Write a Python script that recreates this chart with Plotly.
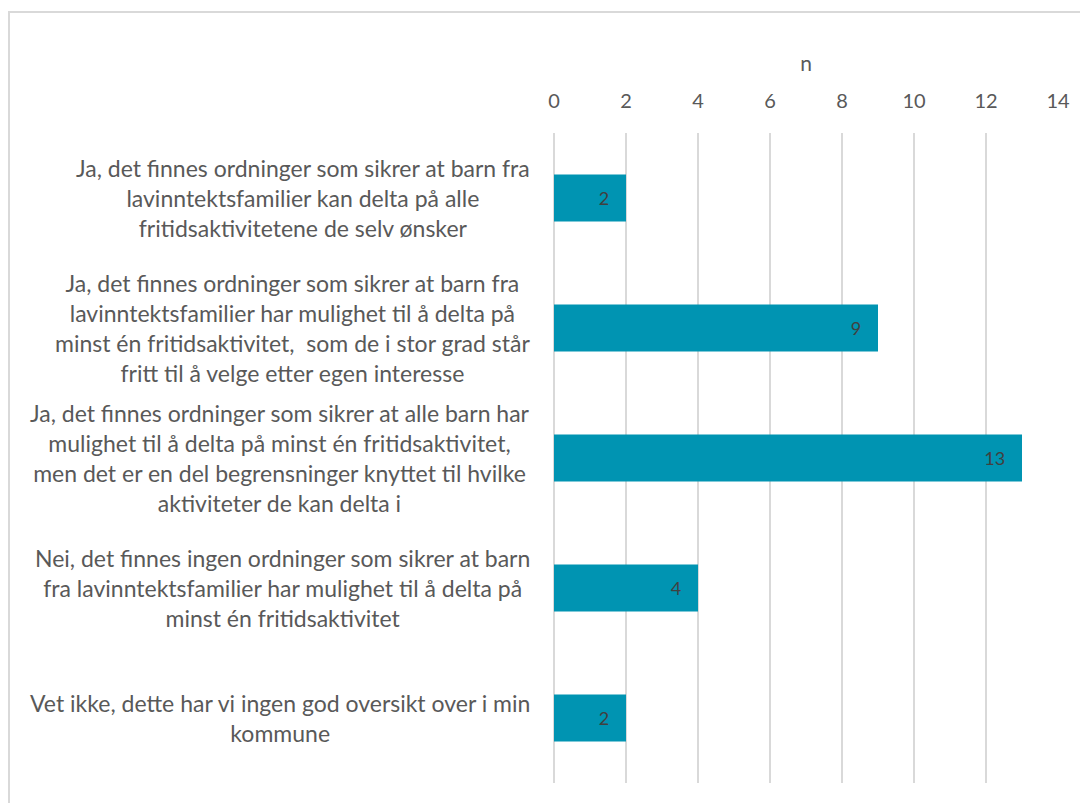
import plotly.graph_objects as go

# survey answers, top to bottom as shown
categories = [
    "Ja, det finnes ordninger som sikrer at barn fra<br>lavinntektsfamilier kan delta på alle<br>fritidsaktivitetene de selv ønsker",
    "Ja, det finnes ordninger som sikrer at barn fra<br>lavinntektsfamilier har mulighet til å delta på<br>minst én fritidsaktivitet,  som de i stor grad står<br>fritt til å velge etter egen interesse",
    "Ja, det finnes ordninger som sikrer at alle barn har<br>mulighet til å delta på minst én fritidsaktivitet,<br>men det er en del begrensninger knyttet til hvilke<br>aktiviteter de kan delta i",
    "Nei, det finnes ingen ordninger som sikrer at barn<br>fra lavinntektsfamilier har mulighet til å delta på<br>minst én fritidsaktivitet",
    "Vet ikke, dette har vi ingen god oversikt over i min<br>kommune",
]
counts = [2, 9, 13, 4, 2]
x_ticks = [0, 2, 4, 6, 8, 10, 12, 14]

FONT = "Lato"
BAR = "#0094B2"
GRID = "#d9d9d9"
TXT = "#595959"

keys = [f"c{i}" for i in range(len(categories))]

fig = go.Figure(
    go.Bar(
        x=counts,
        y=keys,
        orientation="h",
        marker=dict(color=BAR, line=dict(width=0)),
        text=[f"{v}\u00a0\u00a0\u00a0" for v in counts],
        textposition="inside",
        insidetextanchor="end",
        textfont=dict(family=FONT, size=18, color="#404040"),
        width=0.36,
    )
)


def styled(label, size=23):
    # wrap each line so glyph size and line pitch can differ
    return "<br>".join(f"<span style='font-size:{size}px'>{ln}</span>" for ln in label.split("<br>"))


for key, label in zip(keys, categories):
    fig.add_annotation(
        x=0, y=key, xref="x", yref="y",
        xanchor="right", xshift=-22,
        text=styled(label), align="center", showarrow=False,
        font=dict(family=FONT, size=23, color=TXT),
    )

# light frame around the chart (runs off the right/bottom edge like the original)
fig.add_shape(
    type="rect", xref="paper", yref="paper",
    x0=(1 - 546) / 504, x1=1.2, y0=-0.2, y1=(775 - 4) / 650,
    line=dict(color=GRID, width=2), fillcolor="rgba(0,0,0,0)", layer="below",
)

fig.update_xaxes(
    side="top", range=[0, 14], tickvals=x_ticks,
    showgrid=True, gridcolor=GRID, gridwidth=1.5,
    zeroline=True, zerolinecolor=GRID, zerolinewidth=1.5,
    showline=False, ticks="", ticklabelstandoff=20,
    tickfont=dict(family=FONT, size=20, color=TXT),
    title=dict(text="n", font=dict(family=FONT, size=21, color=TXT), standoff=10),
)
fig.update_yaxes(
    categoryorder="array", categoryarray=keys, autorange="reversed",
    showticklabels=False, showgrid=False, zeroline=False, showline=False, ticks="",
)
fig.update_layout(
    width=1088, height=803,
    margin=dict(l=546, r=38, t=125, b=28),
    plot_bgcolor="white", paper_bgcolor="white",
    showlegend=False, bargap=0.64,
    font=dict(family=FONT, color=TXT),
)

fig.write_html("out.html")
